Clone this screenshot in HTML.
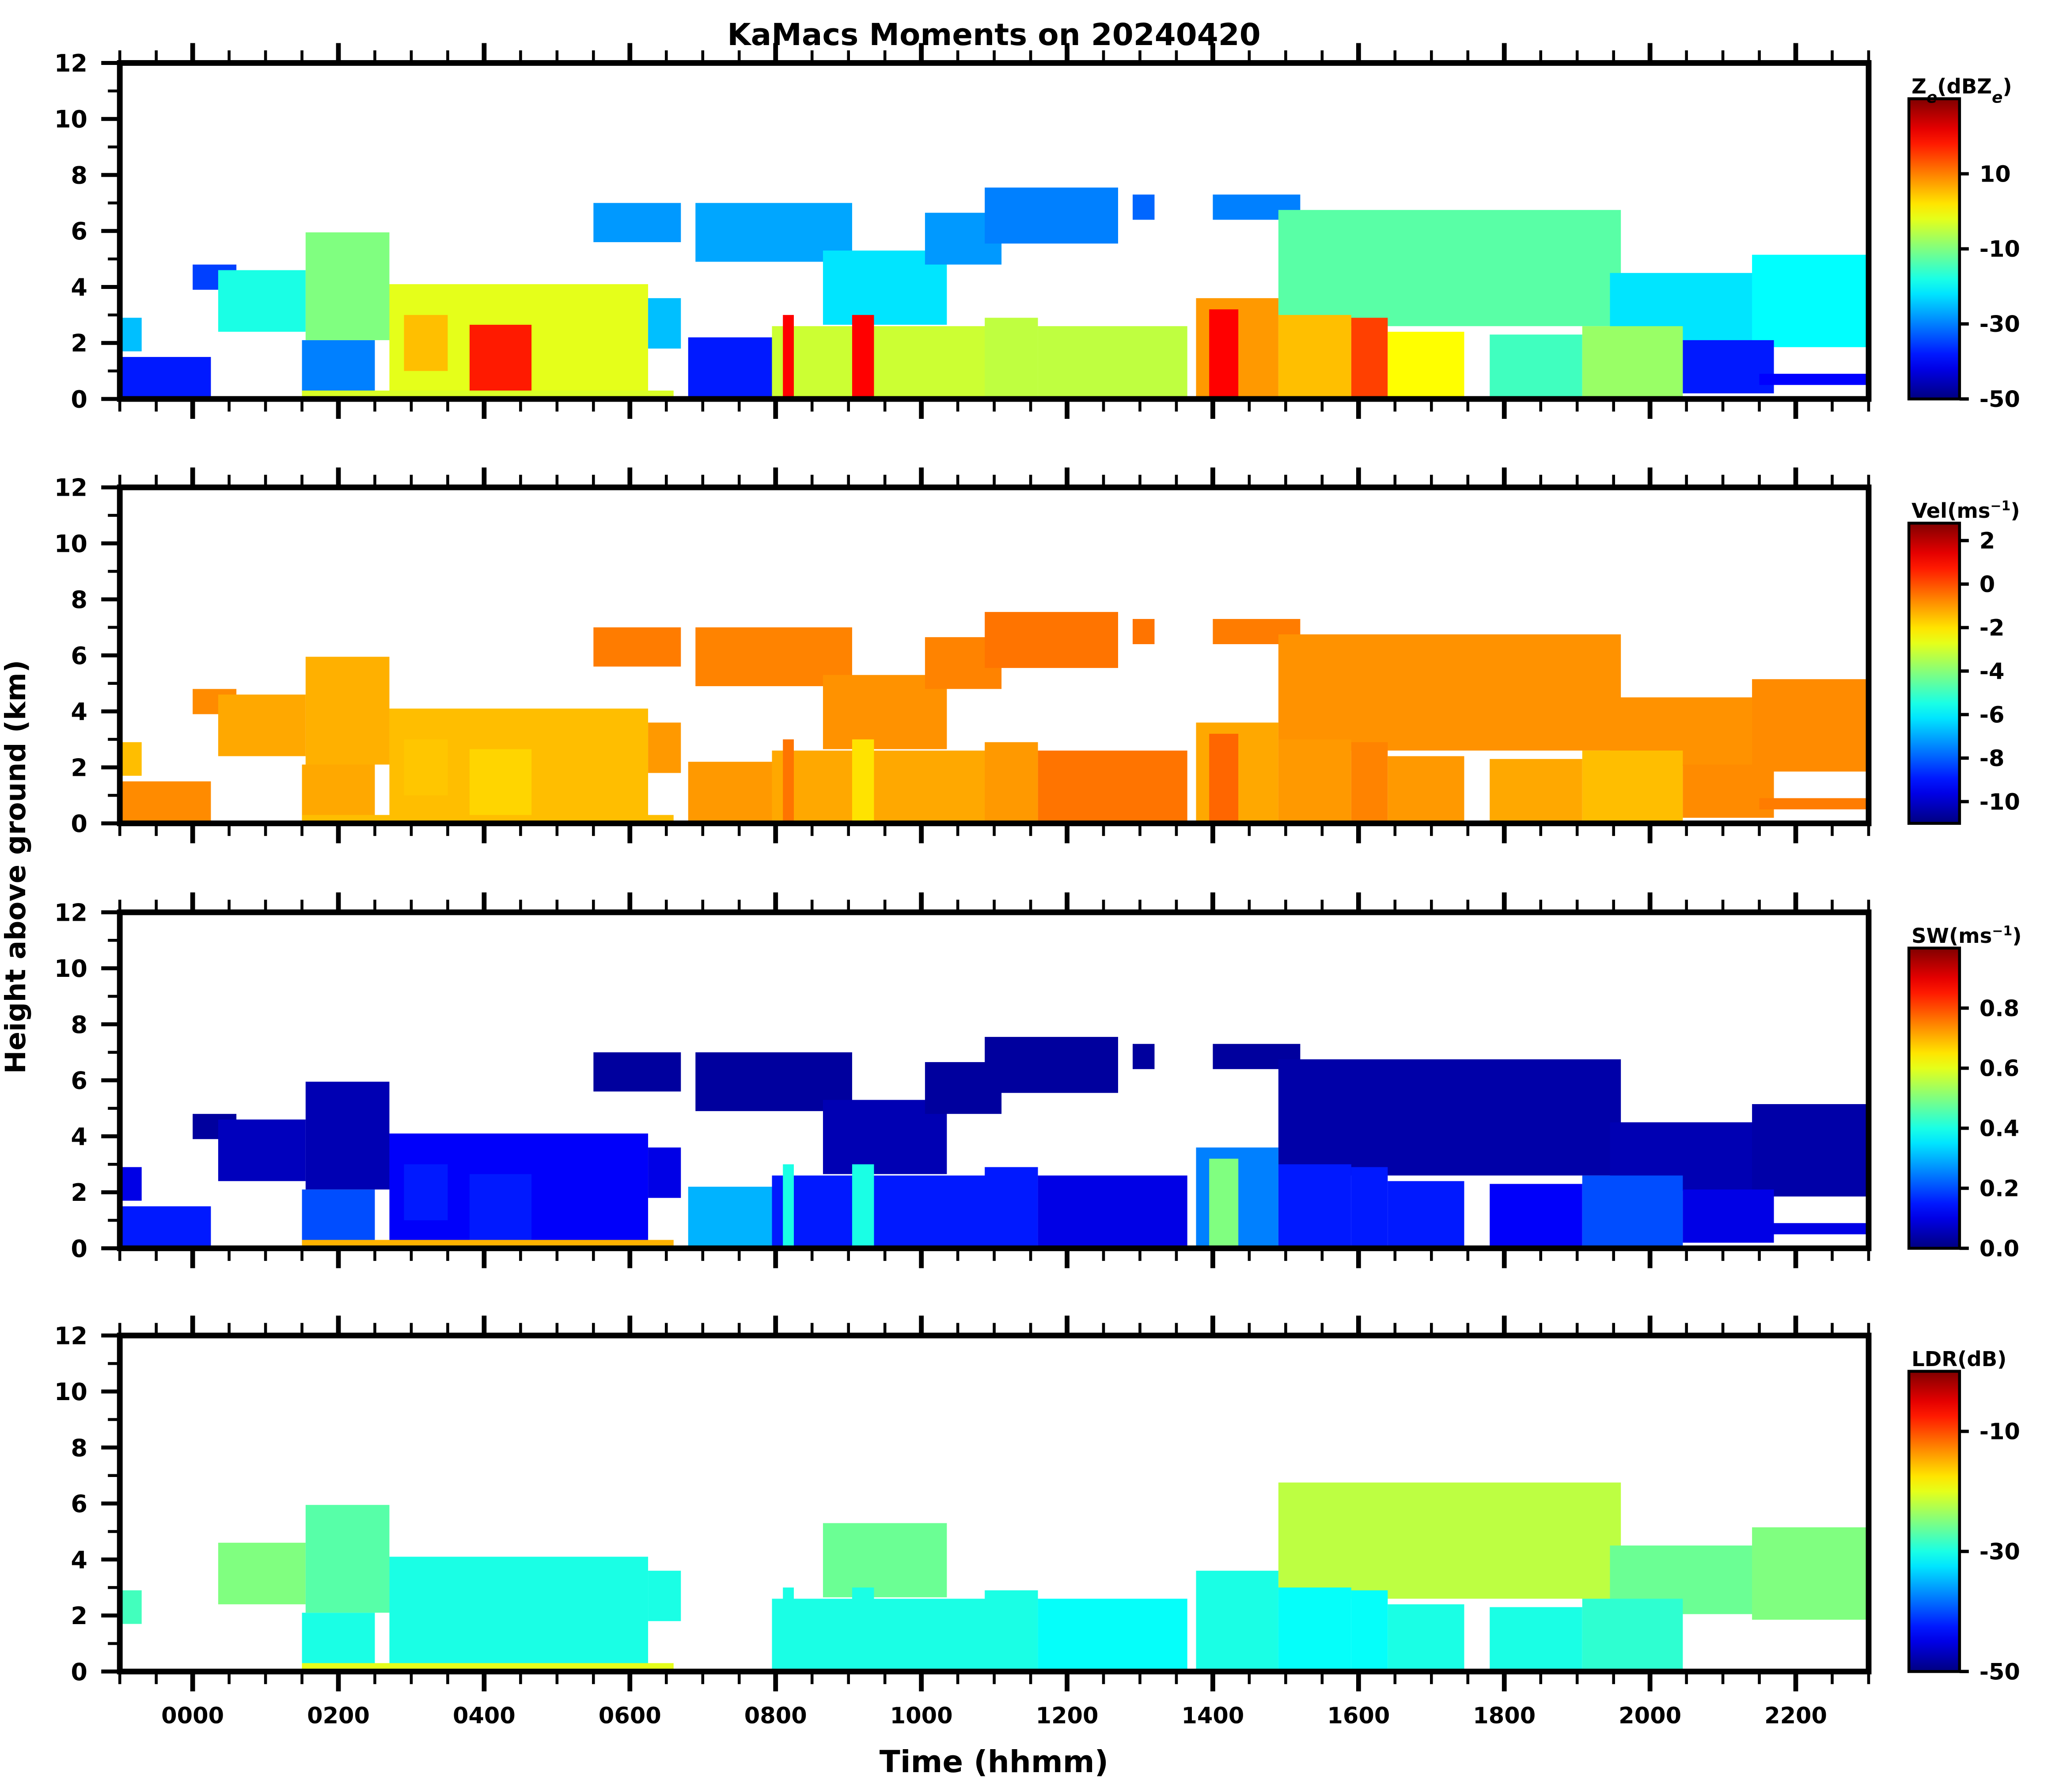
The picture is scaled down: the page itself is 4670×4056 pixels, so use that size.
<!DOCTYPE html>
<html><head><meta charset="utf-8"><style>
html,body{margin:0;padding:0;background:#fff;}
svg{display:block;font-family:"DejaVu Sans","Liberation Sans",sans-serif;font-weight:bold;}
</style></head><body>
<svg id="fig" xmlns="http://www.w3.org/2000/svg" width="4670" height="4056" viewBox="0 0 1556.667 1352">
<rect width="1556.667" height="1352" fill="#fff"/>
<text x="750" y="34" font-size="23" text-anchor="middle">KaMacs Moments on 20240420</text>
<text transform="translate(19,654) rotate(-90)" font-size="21" text-anchor="middle">Height above ground (km)</text>
<text x="750" y="1337" font-size="23" text-anchor="middle">Time (hhmm)</text>
<g id="panels"></g>
</svg>
<script>
// echo blocks: time in hours (-1..23), heights in km, one value per moment (null = no data)
const blockStart = [-1.0,-1.0, 0.0, 0.35, 1.5, 1.55, 2.7, 2.9, 3.8, 6.25, 6.8, 5.5, 6.9, 8.65,10.05, 7.95, 8.1, 9.05,10.87,12.9,14.0,14.9,19.45,21.4,10.87,11.6,13.77,13.95,14.9,15.9,16.4,17.8,19.07,20.45,21.5, 1.5];
const blockEnd   = [0.25,-0.7, 0.6, 1.55, 2.5, 2.7, 6.25, 3.5, 4.65, 6.7, 8.0, 6.7, 9.05,10.35,11.1, 11.1, 8.25, 9.35,12.7, 13.2,15.2,19.6,21.8, 23.0,11.6, 13.65,14.9,14.35,15.9,16.4,17.45,19.07,20.45,21.7,23.0, 6.6];
const blockBase  = [ 0.0, 1.7, 3.9, 2.4, 0.0, 2.1, 0.0, 1.0, 0.0, 1.8, 0.0, 5.6, 4.9, 2.65, 4.8, 0.0, 0.0, 0.0, 5.55,6.4, 6.4, 2.6, 2.05, 1.85, 0.0, 0.0, 0.0, 0.0, 0.0, 0.0, 0.0, 0.0, 0.0, 0.2, 0.5, 0.0];
const blockTop   = [ 1.5, 2.9, 4.8, 4.6, 2.1, 5.95,4.1, 3.0, 2.65, 3.6, 2.2, 7.0, 7.0, 5.3, 6.65, 2.6, 3.0, 3.0, 7.55,7.3, 7.3, 6.75,4.5, 5.15, 2.9, 2.6, 3.6, 3.2, 3.0, 2.9, 2.4, 2.3, 2.6, 2.1, 0.9, 0.3];
const zeVals     = [-38, -25, -35, -18, -30, -10, -2,   5,  18, -25, -38, -28, -27, -22, -28,  -4,  20,  20, -30, -32, -30, -13, -22, -20,  -5,  -5,   8,  20,   5,  15,   0, -15,  -8, -38, -40,  -3];
const velVals    = [-0.8,-1.5,-0.8,-1.2,-1.2,-1.3,-1.5,-1.6,-1.8,-1.0,-1.0,-0.6,-0.7,-0.9,-0.7,-1.2,-0.5,-2.0,-0.5,-0.5,-0.6,-0.9,-0.9,-0.8,-1.0,-0.5,-1.2,-0.3,-1.0,-0.7,-1.0,-1.2,-1.5,-0.8,-0.6,-1.5];
const swVals     = [0.15,0.10,0.03,0.06,0.20,0.05,0.12,0.15,0.15,0.10,0.30,0.03,0.03,0.05,0.03,0.15,0.40,0.40,0.03,0.03,0.03,0.04,0.05,0.04,0.15,0.10,0.25,0.50,0.15,0.15,0.15,0.12,0.20,0.10,0.10,0.70];
const ldrVals    = [null, -28, null, -25, -30, -27, -30, -30, -30, -30, null, null, null, -26, null, -30, -30, -30, null, null, null, -22, -26, -25, -30, -31, -30, -30, -31, -31, -30, -30, -29, null, null, -20];
const panelVars  = ['ze','vel','sw','ldr'];
const cbLabels   = ['Z<tspan baseline-shift="sub" font-size="12" font-style="italic">e</tspan>(dBZ<tspan baseline-shift="sub" font-size="12" font-style="italic">e</tspan>)','Vel(ms<tspan baseline-shift="super" font-size="10">−1</tspan>)','SW(ms<tspan baseline-shift="super" font-size="10">−1</tspan>)','LDR(dB)'];
const cbMin = [-50,-11,0,-50];
const cbMax = [30,2.8,1.0,0];
const cbTicks = [[10,-10,-30,-50],[2,0,-2,-4,-6,-8,-10],[0.8,0.6,0.4,0.2,0.0],[-10,-30,-50]];
const cbTickLabels = [['10','-10','-30','-50'],['2','0','-2','-4','-6','-8','-10'],['0.8','0.6','0.4','0.2','0.0'],['-10','-30','-50']];
const yTicks = [0,2,4,6,8,10,12];
const xTickHours = [0,2,4,6,8,10,12,14,16,18,20,22];
const xTickLabels = ['0000','0200','0400','0600','0800','1000','1200','1400','1600','1800','2000','2200'];

const NS='http://www.w3.org/2000/svg';
const panelTops=[47.5,367.7,688.3,1007.6], PH=253.5, X0=90.4, X1=1410, T0=-1, T1=23;
const CBX=1440.4, CBW=38.2;
function xs(h){return X0+(h-T0)/(T1-T0)*(X1-X0);}
function ys(top,km){return top+PH-km/12*PH;}
function jet(t){t=Math.max(0,Math.min(1,t));
 const r=Math.max(0,Math.min(1,Math.min(4*t-1.5,-4*t+4.5)));
 const g=Math.max(0,Math.min(1,Math.min(4*t-0.5,-4*t+3.5)));
 const b=Math.max(0,Math.min(1,Math.min(4*t+0.5,-4*t+2.5)));
 return `rgb(${Math.round(r*255)},${Math.round(g*255)},${Math.round(b*255)})`;}
function mk(tag,attrs,parent){const e=document.createElementNS(NS,tag);for(const k in attrs)e.setAttribute(k,attrs[k]);parent.appendChild(e);return e;}
const root=document.getElementById('panels');
const valsBy={ze:zeVals,vel:velVals,sw:swVals,ldr:ldrVals};
const defs=mk('defs',{},root);
panelVars.forEach((v,p)=>{
 const top=panelTops[p];
 const g=mk('g',{},root);
 
 
 const vals=valsBy[v];
 for(let i=0;i<blockStart.length;i++){
  if(vals[i]===null)continue;
  const x1=xs(blockStart[i]),x2=xs(blockEnd[i]);
  const yt=ys(top,blockTop[i]),yb=ys(top,blockBase[i]);
  const r=mk('rect',{x:x1,y:yt,width:x2-x1,height:yb-yt,fill:jet((vals[i]-cbMin[p])/(cbMax[p]-cbMin[p]))},g);
  
  
 }
 const fr=mk('rect',{x:X0,y:top,width:X1-X0,height:PH,fill:'none',stroke:'#000','stroke-width':4.3},g);
 
 
 for(let k=0;k<=48;k++){
  const h=-1+k*0.5;const major=(k%4===2);const L=major?15:9.5;const w=major?3.6:2.2;const x=xs(h);
  mk('line',{x1:x,x2:x,y1:top+PH,y2:top+PH+L,stroke:'#000','stroke-width':w},g);
  mk('line',{x1:x,x2:x,y1:top,y2:top-L,stroke:'#000','stroke-width':w},g);
 }
 if(p===3){xTickHours.forEach((h,i)=>{const t=mk('text',{x:xs(h),y:top+PH+39,'font-size':17,'text-anchor':'middle'},g);t.textContent=xTickLabels[i];
  });}
 for(let k=0;k<=12;k++){const major=k%2===0;const L=major?14:9;const y=ys(top,k);
  mk('line',{x1:X0,x2:X0-L,y1:y,y2:y,stroke:'#000','stroke-width':major?3:2.2},g);}
 yTicks.forEach(k=>{const t=mk('text',{x:66,y:ys(top,k)+6.5,'font-size':18,'text-anchor':'end'},g);t.textContent=String(k);
  });
 const cbTop=top+27, cbH=PH-27;
 const grad=mk('linearGradient',{id:'jet'+p,x1:0,y1:1,x2:0,y2:0},defs);
 for(let s=0;s<=20;s++)mk('stop',{offset:s/20,'stop-color':jet(s/20)},grad);
 const cb=mk('rect',{x:CBX,y:cbTop,width:CBW,height:cbH,fill:`url(#jet${p})`,stroke:'#000','stroke-width':2.2},g);
 
 
 cbTicks[p].forEach((tv,i)=>{const y=cbTop+cbH-(tv-cbMin[p])/(cbMax[p]-cbMin[p])*cbH;
  mk('line',{x1:CBX+CBW,x2:CBX+CBW+7,y1:y,y2:y,stroke:'#000','stroke-width':2.5},g);
  const t=mk('text',{x:CBX+CBW+15,y:y+6,'font-size':17},g);t.textContent=cbTickLabels[p][i];
  });
 const lab=mk('text',{x:CBX+2,y:top+23,'font-size':15.5},g);lab.innerHTML=cbLabels[p];
 
 
});
</script>
</body></html>
